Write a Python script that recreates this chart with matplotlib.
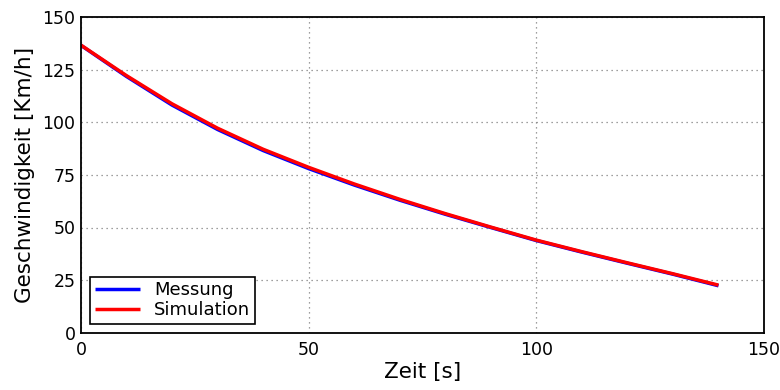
import matplotlib
matplotlib.use("Agg")
import matplotlib.pyplot as plt

# Coast-down test: measured vs. simulated vehicle speed
zeit = [0, 10, 20, 30, 40, 50, 60, 70, 80, 90, 100, 110, 120, 130, 140]
simulation = [136.7, 122.2, 108.8, 97.2, 87.2, 78.6, 70.7, 63.4, 56.6, 50.2,
              44.0, 38.5, 33.2, 28.0, 22.6]
messung = [136.6, 121.8, 108.2, 96.6, 86.6, 78.0, 70.2, 63.0, 56.3, 50.0,
           43.8, 38.3, 33.0, 27.8, 22.3]

x_ticks = [0, 50, 100, 150]
y_ticks = [0, 25, 50, 75, 100, 125, 150]

plt.rcParams['font.family'] = ['DejaVu Sans']

fig = plt.figure(figsize=(7.8, 3.9), dpi=100)
ax = fig.add_axes([0.1038, 0.147, 0.8757, 0.809])

ax.plot(zeit, messung, color='#0000ff', lw=2.5, label='Messung', solid_capstyle='butt')
ax.plot(zeit, simulation, color='#ff0000', lw=2.5, label='Simulation', solid_capstyle='butt')

ax.set_xlim(0, 150)
ax.set_ylim(0, 150)
ax.set_xticks(x_ticks)
ax.set_yticks(y_ticks)
ax.tick_params(axis='both', labelsize=12.5, length=0)
ax.tick_params(axis='x', pad=6)
ax.tick_params(axis='y', pad=4)
ax.grid(True, color='#808080', linestyle=(0, (1, 3)), linewidth=0.9)

for s in ax.spines.values():
    s.set_linewidth(1.3)
    s.set_color('black')

ax.set_xlabel('Zeit [s]', fontsize=15.5, labelpad=2)
ax.set_ylabel('Geschwindigkeit [Km/h]', fontsize=15.5, labelpad=5)

leg = ax.legend(loc='lower left', fontsize=13, fancybox=False, framealpha=1,
                edgecolor='black', borderaxespad=0.5, handlelength=2.5,
                labelspacing=0.1, borderpad=0.25, handletextpad=0.8)
leg.get_frame().set_linewidth(1.2)

fig.savefig('out.png', dpi=100)
